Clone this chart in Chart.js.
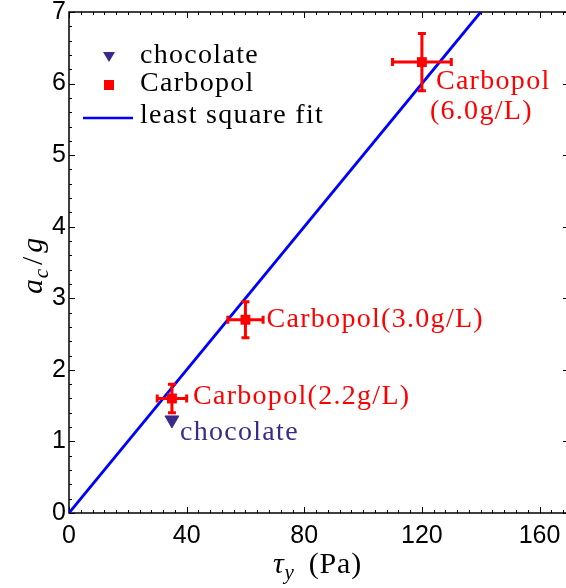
<!DOCTYPE html>
<html><head><meta charset="utf-8">
<script src="https://cdn.jsdelivr.net/npm/chart.js@4/dist/chart.umd.min.js"></script>
<style>html,body{margin:0;padding:0;background:#fff;overflow:hidden}#wrap{width:566px;height:588px;position:relative}</style>
</head><body><div id="wrap"><canvas id="c" width="566" height="588"></canvas></div>
<script>
// ---- data ----
const seriesNames = ["chocolate", "Carbopol", "least square fit"];
const chocolateX = [35];
const chocolateY = [1.3];
const carbopolX = [35, 60, 120];
const carbopolY = [1.6, 2.7, 6.3];
const carbopolXErr = [5, 6, 10];
const carbopolYErr = [0.2, 0.25, 0.4];
const carbopolLabels = [["Carbopol(2.2g/L)"], ["Carbopol(3.0g/L)"], ["Carbopol", "(6.0g/L)"]];
const chocolateLabels = ["chocolate"];
const fitX = [0, 140];
const fitY = [0, 7];
const xTicks = [0, 40, 80, 120, 160];
const yTicks = [0, 1, 2, 3, 4, 5, 6, 7];

const RED = '#ff0000', BLUE = '#0000ff', PURPLE = '#3b2a8a';
const SERIF = '"Liberation Serif", "DejaVu Serif", serif';
const SANS = '"Liberation Sans", Arial, sans-serif';

function sText(ctx, parts, x, y, align) {
  let total = 0;
  const measured = parts.map(p => {
    ctx.font = (p[1] ? 'italic ' : '') + (p[2] ? '21px ' : '30px ') + SERIF;
    const w = ctx.measureText(p[0]).width + (p[3] || 0);
    total += w; return w;
  });
  let cx = align === 'center' ? x - total / 2 : x;
  parts.forEach((p, i) => {
    ctx.font = (p[1] ? 'italic ' : '') + (p[2] ? '21px ' : '30px ') + SERIF;
    ctx.fillText(p[0], cx, y + (p[2] ? 6 : 0));
    cx += measured[i];
  });
}

const decor = {
  id: 'decor',
  beforeDatasetsDraw(chart) {
    const ctx = chart.ctx, xs = chart.scales.x, ys = chart.scales.y, a = chart.chartArea;
    ctx.save();
    ctx.strokeStyle = '#000'; ctx.lineWidth = 1;
    for (let v = 0; v <= 169; v += 4) {
      const px = Math.round(xs.getPixelForValue(v)) + 0.5;
      const L = v % 40 === 0 ? 6 : 3;
      ctx.beginPath();
      ctx.moveTo(px, a.bottom); ctx.lineTo(px, a.bottom - L);
      ctx.moveTo(px, a.top); ctx.lineTo(px, a.top + L);
      ctx.stroke();
    }
    for (let k = 0; k <= 35; k++) {
      const v = k / 5;
      const py = Math.round(ys.getPixelForValue(v)) + 0.5;
      const major = k % 5 === 0;
      const L = major ? 6 : 3;
      ctx.beginPath();
      ctx.moveTo(a.left, py); ctx.lineTo(a.left + L, py);
      if (major) { ctx.moveTo(a.right, py); ctx.lineTo(a.right - 3, py); }
      ctx.stroke();
    }
    ctx.lineWidth = 1.5;
    ctx.beginPath();
    ctx.moveTo(a.right, a.top); ctx.lineTo(a.left, a.top); ctx.lineTo(a.left, a.bottom); ctx.lineTo(a.right, a.bottom);
    ctx.stroke();
    ctx.restore();
  },
  afterDatasetsDraw(chart) {
    const ctx = chart.ctx, xs = chart.scales.x, ys = chart.scales.y;
    ctx.save();
    ctx.strokeStyle = RED; ctx.lineWidth = 3; ctx.lineCap = 'butt';
    carbopolX.forEach((x, i) => {
      const y = carbopolY[i];
      const px = xs.getPixelForValue(x), py = ys.getPixelForValue(y);
      const x0 = xs.getPixelForValue(x - carbopolXErr[i]), x1 = xs.getPixelForValue(x + carbopolXErr[i]);
      const y0 = ys.getPixelForValue(y - carbopolYErr[i]), y1 = ys.getPixelForValue(y + carbopolYErr[i]);
      ctx.beginPath();
      ctx.moveTo(x0, py); ctx.lineTo(x1, py);
      ctx.moveTo(px, y0); ctx.lineTo(px, y1);
      ctx.moveTo(x0, py - 4); ctx.lineTo(x0, py + 4);
      ctx.moveTo(x1, py - 4); ctx.lineTo(x1, py + 4);
      ctx.moveTo(px - 4, y0); ctx.lineTo(px + 4, y0);
      ctx.moveTo(px - 4, y1); ctx.lineTo(px + 4, y1);
      ctx.stroke();
    });
    ctx.textBaseline = 'middle'; ctx.textAlign = 'left';
    ctx.font = '28px ' + SERIF;
    ctx.letterSpacing = '1.3px';
    const offs = [[[21, -2]], [[21, 0]], [[14, 20], [8, 50]]];
    carbopolLabels.forEach((lines, i) => {
      const px = xs.getPixelForValue(carbopolX[i]), py = ys.getPixelForValue(carbopolY[i]);
      ctx.fillStyle = RED;
      lines.forEach((t, j) => ctx.fillText(t, px + offs[i][j][0], py + offs[i][j][1]));
    });
    ctx.fillStyle = PURPLE;
    chocolateLabels.forEach((t, i) => {
      const px = xs.getPixelForValue(chocolateX[i]), py = ys.getPixelForValue(chocolateY[i]);
      ctx.fillText(t, px + 8, py + 13);
    });
    ctx.fillStyle = '#000';
    ctx.fillText(seriesNames[0], 140, 56);
    ctx.fillText(seriesNames[1], 140, 84);
    ctx.fillText(seriesNames[2], 140, 116);
    ctx.fillStyle = PURPLE;
    ctx.beginPath(); ctx.moveTo(103, 52); ctx.lineTo(115, 52); ctx.lineTo(109, 62); ctx.closePath(); ctx.fill();
    ctx.fillStyle = RED; ctx.fillRect(104, 80, 10, 10);
    ctx.strokeStyle = BLUE; ctx.lineWidth = 2.5;
    ctx.beginPath(); ctx.moveTo(83, 118); ctx.lineTo(133, 118); ctx.stroke();
    ctx.letterSpacing = '0.8px';
    ctx.fillStyle = '#000'; ctx.textBaseline = 'alphabetic';
    sText(ctx, [['τ', true, false], ['y', true, true, 14], ['(Pa)', false, false]], (chart.chartArea.left + chart.chartArea.right) / 2, 573, 'center');
    ctx.save();
    ctx.translate(42, (chart.chartArea.top + chart.chartArea.bottom) / 2 + 3);
    ctx.rotate(-Math.PI / 2);
    sText(ctx, [['a', true, false], ['c', true, true, 3], ['/', false, false, 3], ['g', true, false]], 0, 0, 'center');
    ctx.restore();
    ctx.restore();
  }
};

const ctx = document.getElementById('c').getContext('2d');
new Chart(ctx, {
  type: 'scatter',
  data: {
    datasets: [
      { label: seriesNames[2], type: 'line', data: fitX.map((x, i) => ({ x, y: fitY[i] })),
        borderColor: BLUE, borderWidth: 2.8, pointRadius: 0, fill: false, showLine: true, order: 3 },
      { label: seriesNames[0], data: chocolateX.map((x, i) => ({ x, y: chocolateY[i] })),
        pointStyle: 'triangle', rotation: 180, pointRadius: 8, backgroundColor: PURPLE, borderColor: PURPLE, borderWidth: 1, order: 2 },
      { label: seriesNames[1], data: carbopolX.map((x, i) => ({ x, y: carbopolY[i] })),
        pointStyle: 'rect', pointRadius: 7, backgroundColor: RED, borderColor: RED, borderWidth: 0, order: 1 }
    ]
  },
  options: {
    animation: false, responsive: false, devicePixelRatio: 1,
    layout: { autoPadding: false, padding: { top: 12, right: 0, left: 0, bottom: 0 } },
    plugins: { legend: { display: false }, tooltip: { enabled: false } },
    scales: {
      x: {
        type: 'linear', min: 0, max: 169,
        afterBuildTicks: s => { s.ticks = xTicks.map(v => ({ value: v })); },
        afterFit: s => { s.height = 75; s.paddingLeft = 0; s.paddingRight = 0; },
        ticks: { font: { family: SANS, size: 25 }, color: '#000', padding: 8, maxRotation: 0 },
        grid: { display: false, drawTicks: false }, border: { display: false }
      },
      y: {
        type: 'linear', min: 0, max: 7,
        afterBuildTicks: s => { s.ticks = yTicks.map(v => ({ value: v })); },
        afterFit: s => { s.width = 69; s.paddingTop = 0; s.paddingBottom = 0; },
        ticks: { font: { family: SANS, size: 25 }, color: '#000', padding: 3 },
        grid: { display: false, drawTicks: false }, border: { display: false }
      }
    }
  },
  plugins: [decor]
});
</script>
</body></html>
